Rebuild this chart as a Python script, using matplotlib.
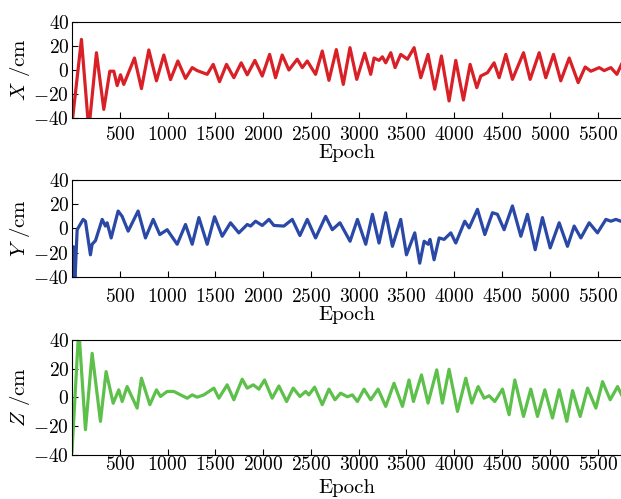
import matplotlib
matplotlib.use("Agg")
import matplotlib.pyplot as plt

plt.rcParams['font.family'] = 'serif'
plt.rcParams['font.serif'] = ['cmr10', 'DejaVu Serif']
plt.rcParams['mathtext.fontset'] = 'cm'
plt.rcParams['axes.formatter.use_mathtext'] = True
plt.rcParams['axes.unicode_minus'] = True

# X error (cm), read from peaks / troughs of the trace
x_epoch = [0, 99, 176, 256, 333, 396, 438, 473, 508, 542, 654, 727, 804, 884, 961,
           1031, 1108, 1188, 1258, 1310, 1415, 1478, 1544, 1617, 1694, 1771, 1834,
           1914, 1991, 2068, 2130, 2200, 2270, 2357, 2410, 2462, 2549, 2619, 2689,
           2766, 2839, 2909, 2980, 3063, 3126, 3161, 3213, 3248, 3283, 3336, 3381,
           3440, 3510, 3580, 3650, 3726, 3796, 3866, 3946, 4016, 4096, 4166, 4236,
           4278, 4348, 4417, 4470, 4540, 4609, 4725, 4794, 4889, 4958, 5039, 5115,
           5203, 5297, 5370, 5430, 5517, 5569, 5639, 5702, 5750]
x_err = [-45, 25.5, -50, 14.4, -32.8, -1, -1, -13, -4, -12, 10, -15.5, 16.7, -9, 12.5,
         -8, 7.5, -7, 2, -0.5, -3.6, 4.7, -9.7, 4.7, -6.4, 6, -4,
         8, -5, 13, -6.4, 12.5, 0, 9, 2, 7.5, -3.6, 15.8, -8.6,
         17, -12, 18.6, -7.8, 14, -3.6, 10, 8, 11, 6, 14.4, 2,
         13, 9, 18.6, -6.4, 13, -16, 11.7, -25.8, 8, -25, 4.7, -14.7,
         -5, -2.2, 6, -6.4, 13, -7.8, 14.4, -7.8, 14.4, -6.4, 13, -9,
         10, -10.5, 2.5, -1, 2, -0.5, 2, -3.6, 4.7]

# Y error (cm)
y_epoch = [0, 15, 30, 54, 117, 141, 193, 211, 246, 316, 350, 368, 410, 483, 525, 588,
           692, 769, 850, 919, 996, 1101, 1188, 1258, 1328, 1415, 1492, 1572, 1659,
           1746, 1834, 1869, 1921, 1991, 2061, 2113, 2218, 2305, 2385, 2462, 2549,
           2654, 2724, 2804, 2910, 2987, 3074, 3144, 3213, 3283, 3353, 3440, 3500,
           3587, 3639, 3685, 3726, 3747, 3789, 3842, 3894, 3964, 4016, 4110, 4156,
           4243, 4320, 4400, 4452, 4522, 4609, 4697, 4766, 4847, 4923, 5004, 5098,
           5185, 5255, 5325, 5412, 5499, 5587, 5639, 5691, 5744]
y_err = [-45, -15, -45, -1, 7.5, 6, -21.7, -13, -10, 7.5, 2, 4.7, -7.8, 14.4, 10, -2.2,
         14.4, -7.8, 7.5, -5, -1, -13, 3.3, -13, 9, -13, 9.7, -6.4, 4.7,
         -3.6, 3.3, 2, 6, 2.5, 7.5, 2.5, 2, 7.5, -5.8, 7.5, -7.8,
         10, -1, 4.7, -10.5, 7.5, -13, 11.7, -12, 13, -14.7, 7.5, -21.7,
         -3.6, -28.6, -10.5, -13, -9, -25.8, -7.8, -9, -3.6, -12, 6, 0.5,
         15.8, -5, 13, 11.7, -1, 18.6, -6.4, 11.7, -17.5, 9, -16, 4.7,
         -14.7, 2, -7.8, 4.7, -3.6, 7.5, 6, 7.5, 6]

# Z error (cm)
z_epoch = [0, 71, 141, 211, 298, 357, 431, 490, 525, 577, 682, 727, 815, 884, 926,
           996, 1066, 1136, 1206, 1258, 1310, 1380, 1485, 1537, 1624, 1694, 1781,
           1834, 1897, 1956, 2015, 2095, 2165, 2246, 2315, 2385, 2445, 2479, 2539,
           2619, 2689, 2752, 2811, 2882, 2934, 2987, 3056, 3126, 3203, 3283, 3370,
           3458, 3527, 3573, 3657, 3726, 3817, 3876, 3946, 4034, 4121, 4184, 4250,
           4313, 4365, 4424, 4505, 4574, 4634, 4725, 4801, 4871, 4948, 5028, 5098,
           5178, 5238, 5318, 5395, 5482, 5552, 5632, 5709, 5751]
z_err = [-38, 48, -22.4, 30.7, -16.6, 18, -4, 5.3, -2.8, 7.6, -7.4, 13.4, -5, 5.3, 0.7,
         4.2, 4.2, 1.8, -0.5, 1.8, 0.2, 1.8, 6.5, -0.5, 8.8, -1.6, 12.7,
         6.5, 8.8, 5.8, 12.2, -0.5, 8, -2.8, 6.5, 0.7, 4.2, 1.8, 7.2,
         -5, 5.8, -1.6, 3, 0.5, 1.8, -2.8, 5.8, -1.6, 5.8, -6.2, 9.9,
         -6.2, 12.2, -2.8, 15.7, -3.9, 19.2, -3.9, 19.6, -9.7, 13.4, -3.9, 7.6,
         -0.5, 1.2, -2.8, 5.8, -12, 12.2, -13.2, 5.8, -13.2, 5.3, -14.3, 5.3,
         -16.6, 4.8, -13.2, 6.5, -7.4, 11, -1.6, 7.6, 1.8]

panels = [
    (x_epoch, x_err, '#d92027', r'$X$ /cm', [0.1159, 0.7635, 0.8841, 0.1924], 6, 0),
    (y_epoch, y_err, '#2a48a6', r'$Y$ /cm', [0.1159, 0.4449, 0.8841, 0.1944], 8, 0),
    (z_epoch, z_err, '#5cc04a', r'$Z$ /cm', [0.1159, 0.0882, 0.8841, 0.2305], 1, 3),
]

fig = plt.figure(figsize=(6.21, 4.99), dpi=100)

for epochs, values, color, label, rect, pad, xlpad in panels:
    ax = fig.add_axes(rect)
    ax.plot(epochs, values, color=color, linewidth=2.3, solid_joinstyle='round')
    ax.set_xlim(0, 5745)
    ax.set_ylim(-40, 40)
    ax.set_xticks(range(500, 5501, 500))
    ax.set_yticks(range(-40, 41, 20))
    ax.tick_params(direction='in', labelsize=14, length=4, pad=pad)
    ax.tick_params(axis='y', pad=2)
    ax.spines['right'].set_visible(False)
    ax.set_ylabel(label, fontsize=15, labelpad=1)
    ax.set_xlabel('Epoch', fontsize=15, labelpad=xlpad)

fig.savefig('out.png', dpi=100)
